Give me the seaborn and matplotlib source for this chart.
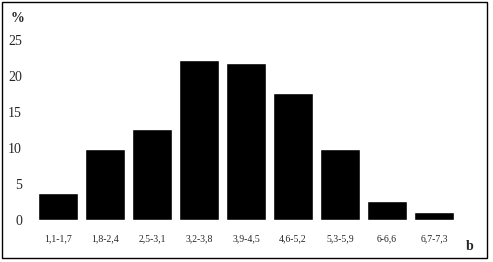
import matplotlib
matplotlib.use('Agg')
import matplotlib.pyplot as plt
import seaborn as sns
import pandas as pd
from matplotlib.patches import Rectangle

# bins of b and share of observations (%)
categories = ['1,1-1,7', '1,8-2,4', '2,5-3,1', '3,2-3,8', '3,9-4,5',
              '4,6-5,2', '5,3-5,9', '6-6,6', '6,7-7,3']
percent = [3.7, 9.8, 12.6, 22.2, 21.8, 17.6, 9.9, 2.6, 1.15]
y_ticks = [0, 5, 10, 15, 20, 25]

sns.set_style('white')
plt.rcParams['font.family'] = ['Liberation Serif', 'DejaVu Serif']

df = pd.DataFrame({'bin': categories, 'pct': percent})

fig = plt.figure(figsize=(4.93, 2.62), dpi=100)
ax = fig.add_axes([34.5 / 493, 42 / 262, 423 / 493, 180 / 262])

sns.barplot(data=df, x='bin', y='pct', color='black', width=0.85,
            saturation=1, ax=ax)

ax.set_xlim(-0.5, len(categories) - 0.5)
ax.set_ylim(0, 25)
ax.set_yticks(y_ticks)
ax.set_xlabel('')
ax.set_ylabel('')
sns.despine(ax=ax, left=True, bottom=True)
ax.tick_params(axis='y', length=0, pad=9, labelsize=10)
ax.tick_params(axis='x', length=0, pad=10, labelsize=7)

fig.text(18 / 493, 1 - 18 / 262, '%', ha='center', va='center',
         fontsize=10, fontweight='bold')
fig.text(470 / 493, 1 - 247 / 262, 'b', ha='center', va='center',
         fontsize=10, fontweight='bold')

# frame around the whole picture
fig.patches.append(Rectangle((1.5 / 493, 4 / 262), 485 / 493, 256.5 / 262,
                             transform=fig.transFigure, fill=False,
                             edgecolor='black', linewidth=1))

fig.savefig('out.png', dpi=100)
